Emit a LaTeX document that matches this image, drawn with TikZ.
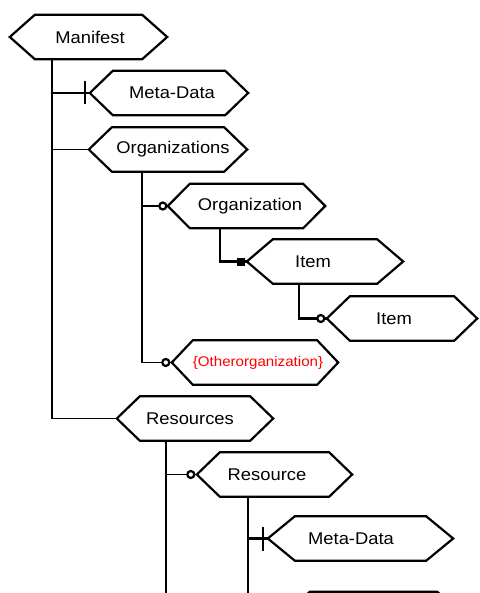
\documentclass[tikz,border=0pt]{standalone}
\usepackage{fontspec}
\setmainfont{Liberation Sans}[FakeStretch=1.08]
\begin{document}
\begin{tikzpicture}[x=1pt,y=-1pt,
  hexbox/.style={rectangle, inner sep=0pt, minimum height=44pt},
  hexline/.style={line width=2.2pt, line join=miter},
  lbl/.style={font=\fontsize{17}{20}\selectfont, inner sep=0pt},
  redlbl/.style={font=\fontsize{14}{17}\selectfont, inner sep=0pt, text=red},
  thinln/.style={line width=1.6pt},
  thickln/.style={line width=2.6pt},
  opencirc/.style={line width=2.2pt, fill=white}]
\useasboundingbox (0,0) rectangle (479,593);
\clip (0,0) rectangle (479,593);
\newcommand\hexo[2]{\draw[hexline] (#1.west) -- ([xshift=#2]#1.north west) -- ([xshift=-#2]#1.north east) -- (#1.east) -- ([xshift=-#2]#1.south east) -- ([xshift=#2]#1.south west) -- cycle;}
% boxes
\node[hexbox, minimum width=157pt] (manifest) at (88.5,37) {};
\node[hexbox, minimum width=158pt] (meta1) at (169,93) {};
\node[hexbox, minimum width=158pt] (orgs) at (168,149.5) {};
\node[hexbox, minimum width=157pt] (org) at (246.5,206) {};
\node[hexbox, minimum width=156pt] (item1) at (325,261.5) {};
\node[hexbox, minimum width=150pt] (item2) at (402,318.5) {};
\node[hexbox, minimum width=166pt] (other) at (255,362.5) {};
\node[hexbox, minimum width=156pt] (resources) at (195,418.5) {};
\node[hexbox, minimum width=155pt] (resource) at (274.5,474.5) {};
\node[hexbox, minimum width=185pt] (meta2) at (360.5,538.5) {};
\node[hexbox, minimum width=177pt] (partial) at (373.5,614) {};
% connectors
\coordinate (sp1) at (52,418.5);
\draw[thinln] (manifest.south -| sp1) -- (sp1) -- (resources.west);
\draw[thickln] (meta1.west -| sp1) -- (meta1.west);
\draw[thinln] (orgs.west -| sp1) -- (orgs.west);
\coordinate (sp2) at (142,362.5);
\draw[thinln] (orgs.south -| sp2) -- (sp2) -- (other.west);
\draw[thinln] (org.west -| sp2) -- (org.west);
\coordinate (sp3) at (220,261.5);
\draw[thickln] (org.south -| sp3) -- (sp3) -- (item1.west);
\coordinate (sp4) at (299,318.5);
\draw[thickln] (item1.south -| sp4) -- (sp4) -- (item2.west);
\coordinate (sp5) at (166,600);
\draw[thickln] (resources.south -| sp5) -- (sp5);
\draw[thinln] (resource.west -| sp5) -- (resource.west);
\coordinate (sp6) at (248,600);
\draw[thickln] (resource.south -| sp6) -- (sp6);
\draw[thickln] (meta2.west -| sp6) -- (meta2.west);
% markers
\draw[thickln] ([xshift=-5pt]meta1.west) ++(0,-11.5) -- ++(0,23);
\draw[thickln] ([xshift=-5pt]meta2.west) ++(0,-12) -- ++(0,24);
\draw[opencirc] ([xshift=-5pt]org.west) circle[radius=3.5pt];
\draw[opencirc] ([xshift=-6pt]other.west) circle[radius=3.5pt];
\draw[opencirc] ([xshift=-6pt]item2.west) circle[radius=3.5pt];
\draw[opencirc] ([xshift=-6pt]resource.west) circle[radius=3.5pt];
\fill ([xshift=-6pt]item1.west) ++(-4,-4) rectangle ++(8,8);
% hexagons
\hexo{manifest}{25pt}
\hexo{meta1}{23pt}
\hexo{orgs}{23pt}
\hexo{org}{22pt}
\hexo{item1}{26pt}
\hexo{item2}{23pt}
\hexo{other}{21pt}
\hexo{resources}{23pt}
\hexo{resource}{23pt}
\hexo{meta2}{27pt}
\hexo{partial}{25pt}
% labels
\node[lbl] (manifest-t) at (90,37) {Manifest};
\node[lbl] (meta1-t) at (172,93) {Meta-Data};
\node[lbl] (orgs-t) at (173,149.5) {Organizations};
\node[lbl] (org-t) at (250,206) {Organization};
\node[lbl] (item1-t) at (313,261.5) {Item};
\node[lbl] (item2-t) at (394,318.5) {Item};
\node[redlbl] (other-t) at (258,362.5) {\{Otherorganization\}};
\node[lbl] (resources-t) at (190,418.5) {Resources};
\node[lbl] (resource-t) at (267,474.5) {Resource};
\node[lbl] (meta2-t) at (351,538.5) {Meta-Data};
\end{tikzpicture}
\end{document}
